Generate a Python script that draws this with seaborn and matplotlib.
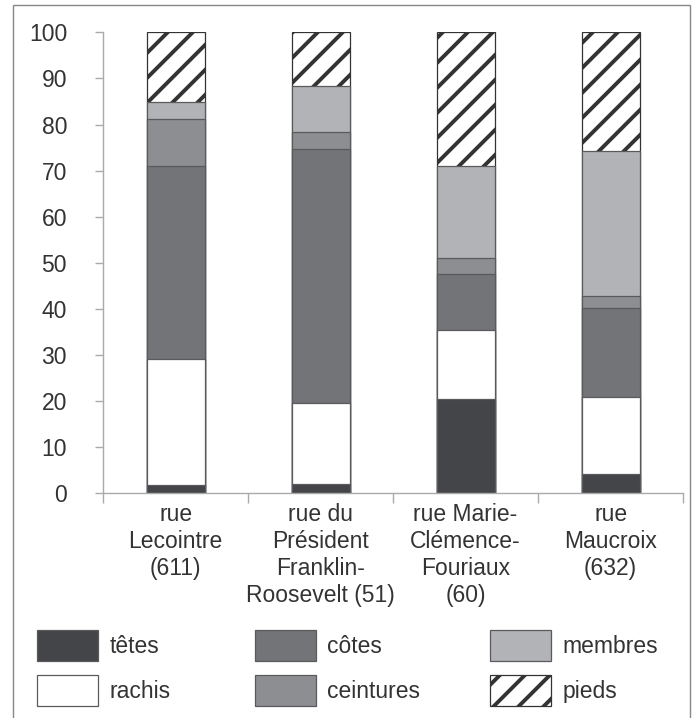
import numpy as np
import pandas as pd
import seaborn as sns
import matplotlib.pyplot as plt
from matplotlib.patches import Patch, Rectangle
from matplotlib.ticker import FixedLocator

rues = ['rue\nLecointre\n(611)',
        'rue du\nPrésident\nFranklin-\nRoosevelt (51)',
        'rue Marie-\nClémence-\nFouriaux\n(60)',
        'rue\nMaucroix\n(632)']

# parts in %, bottom to top
tetes = [1.7, 2.1, 20.4, 4.1]
rachis = [27.5, 17.5, 15.1, 16.8]
cotes = [41.9, 55.0, 12.0, 19.2]
ceintures = [10.0, 3.8, 3.5, 2.8]
membres = [3.8, 10.0, 20.1, 31.3]
pieds = [15.1, 11.6, 28.9, 25.8]

parts = ['têtes', 'rachis', 'côtes', 'ceintures', 'membres', 'pieds']
couleurs = ['#444548', '#ffffff', '#737478', '#8d8e92', '#b2b3b7', '#ffffff']
hachures = [None, None, None, None, None, '/']

df = pd.DataFrame({'rue': rues, 'têtes': tetes, 'rachis': rachis, 'côtes': cotes,
                   'ceintures': ceintures, 'membres': membres, 'pieds': pieds})
cum = df[parts].cumsum(axis=1)

# hatch tile follows dpi, so render at 75 dpi and scale point sizes up
DPI = 75
K = 100 / DPI

sns.set_style('white')
plt.rcParams['font.family'] = ['Liberation Sans', 'DejaVu Sans']
plt.rcParams['hatch.linewidth'] = 2.8 * K

FS = 16.5 * K
LW = 0.9 * K

fig = plt.figure(figsize=(697 / DPI, 718 / DPI), dpi=DPI)
ax = fig.add_axes([0.148, 0.313, 0.832, 0.642])

# draw tallest first so each lower layer covers the one above
for i in reversed(range(len(parts))):
    edge = '#333333' if hachures[i] else '#5a5a5d'
    sns.barplot(x=df['rue'], y=cum[parts[i]], color=couleurs[i], saturation=1,
                width=0.4, edgecolor=edge, linewidth=LW, hatch=hachures[i],
                errorbar=None, ax=ax)

ax.set_xlim(-0.5, 3.5)
ax.set_ylim(0, 100)
ax.set_yticks(np.arange(0, 101, 10))
ax.set_xlabel('')
ax.set_ylabel('')
for s in ['top', 'right']:
    ax.spines[s].set_visible(False)
for s in ['left', 'bottom']:
    ax.spines[s].set_color('#aaaaaa')
    ax.spines[s].set_linewidth(1.0 * K)

ax.tick_params(axis='y', length=6 * K, width=1 * K, color='#aaaaaa', pad=20 * K,
               labelsize=FS, labelcolor='#333333', left=True)
ax.tick_params(axis='x', which='major', length=0, pad=7 * K, labelsize=FS,
               labelcolor='#333333')
ax.xaxis.set_minor_locator(FixedLocator([-0.5, 0.5, 1.5, 2.5, 3.5]))
ax.tick_params(axis='x', which='minor', length=7 * K, width=1 * K, color='#aaaaaa',
               bottom=True)
for lab in ax.get_xticklabels():
    lab.set_linespacing(1.22)
    lab.set_ha('center')

# legend, three columns placed by hand
handles = [Patch(facecolor=couleurs[i], edgecolor='#5a5a5d' if not hachures[i] else '#333333',
                 hatch=hachures[i], linewidth=LW, label=parts[i]) for i in range(len(parts))]
col_x = [37, 255, 490]
for c in range(3):
    fig.legend(handles=handles[2 * c:2 * c + 2], loc='upper left',
               bbox_to_anchor=(col_x[c] / 697, 1 - 630 / 718), frameon=False,
               fontsize=FS, handlelength=2.65, handleheight=1.7,
               handletextpad=0.5, labelspacing=0.62, borderpad=0,
               borderaxespad=0, labelcolor='#333333')

# outer frame
fig.add_artist(Rectangle((13 / 697, -0.05), 677 / 697, 1.05 - 5 / 718,
                         transform=fig.transFigure, fill=False,
                         edgecolor='#888888', linewidth=1.0 * K))

fig.savefig('out.png', dpi=DPI, facecolor='white')
